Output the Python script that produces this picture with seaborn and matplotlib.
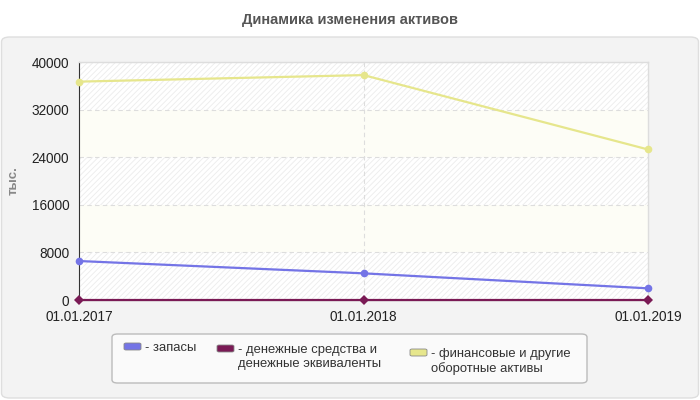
import pandas as pd
import numpy as np
import matplotlib.pyplot as plt
import seaborn as sns
from matplotlib.patches import FancyBboxPatch

# данные (тыс.)
dates = ['01.01.2017', '01.01.2018', '01.01.2019']
zapasy = [6550, 4480, 1960]
den_sredstva = [30, 30, 30]
fin_aktivy = [36700, 37800, 25300]

names = ['- запасы', '- денежные средства и\nденежные эквиваленты', '- финансовые и другие\nоборотные активы']
colors = ['#7474e6', '#7a1a55', '#e6e68c']

df = pd.DataFrame({
    'date': dates * 3,
    'value': zapasy + den_sredstva + fin_aktivy,
    'serie': [names[0]] * 3 + [names[1]] * 3 + [names[2]] * 3,
})

sns.set_style('white')
plt.rcParams['font.family'] = ['Liberation Sans', 'DejaVu Sans']
plt.rcParams['hatch.linewidth'] = 0.6

W, H = 700, 400
fig = plt.figure(figsize=(7, 4), dpi=100)
fig.patch.set_facecolor('white')


def fx(x):
    return x / W


def fy(y):
    return 1 - y / H


# панель с рамкой
panel = FancyBboxPatch((fx(1.5), fy(398)), fx(697), 361 / H, boxstyle='round,pad=0,rounding_size=0.012',
                       transform=fig.transFigure, facecolor='#f3f3f3', edgecolor='#dedede', lw=1, zorder=-5)
fig.patches.append(panel)

fig.text(0.5, fy(20), 'Динамика изменения активов', ha='center', va='center',
         fontsize=10.5, fontweight='bold', color='#555555')

ax = fig.add_axes([fx(79), fy(300), fx(648) - fx(79), (300 - 62) / H])
ax.set_facecolor('white')

# полосы фона
ticks = np.arange(0, 40001, 8000)
for i in range(len(ticks) - 1):
    if i % 2 == 0:
        ax.axhspan(ticks[i], ticks[i + 1], facecolor='white', hatch='//////', edgecolor='#ececec', lw=0, zorder=0)
    else:
        ax.axhspan(ticks[i], ticks[i + 1], facecolor='#fdfdf6', lw=0, zorder=0)

sns.lineplot(data=df, x='date', y='value', hue='serie', style='serie', palette=colors,
             markers=['o', 'D', 'o'], dashes=False, markersize=5.5, markeredgewidth=0,
             linewidth=1.6, ax=ax, legend=False, clip_on=False, zorder=5)

ax.set_xlim(0, 2)
ax.set_ylim(0, 40000)
ax.set_yticks(ticks)
ax.set_xticks([0, 1, 2])
ax.set_xticklabels(dates)
ax.tick_params(axis='both', labelsize=9.8, colors='#222222', length=5, width=1, pad=2)
ax.tick_params(axis='x', length=0, pad=7)
for t in ax.get_yticks()[1:]:
    ax.axhline(t, color='#dddddd', lw=0.8, ls=(0, (4, 3)), zorder=1)
ax.axvline(1, color='#dddddd', lw=0.8, ls=(0, (4, 3)), zorder=1)

for s in ['top', 'right']:
    ax.spines[s].set_color('#dddddd')
    ax.spines[s].set_linewidth(1)
ax.spines['left'].set_color('#333333')
ax.spines['bottom'].set_color('#333333')
ax.set_xlabel('')
ax.set_ylabel('тыс.', fontsize=9.5, fontweight='bold', color='#888888')
ax.yaxis.set_label_coords(-0.104, 0.5)

# легенда
leg_box = FancyBboxPatch((fx(112), fy(383)), fx(587) - fx(112), 49 / H,
                         boxstyle='round,pad=0,rounding_size=0.008', transform=fig.transFigure,
                         facecolor='#fafafa', edgecolor='#bbbbbb', lw=1, zorder=2)
fig.patches.append(leg_box)
leg_x = [124, 217, 410]
leg_y = [343, 345, 349]
for x0, y0, c, n in zip(leg_x, leg_y, colors, names):
    h = FancyBboxPatch((fx(x0), fy(y0 + 7)), fx(17), 7 / H, boxstyle='round,pad=0,rounding_size=0.003',
                       transform=fig.transFigure, facecolor=c, edgecolor='#888888', lw=0.6, zorder=3)
    fig.patches.append(h)
    fig.text(fx(x0 + 21), fy(y0 - 1), n, ha='left', va='top', fontsize=9.4, color='#333333',
             linespacing=1.2, zorder=3)

fig.savefig('out.png', dpi=100)
